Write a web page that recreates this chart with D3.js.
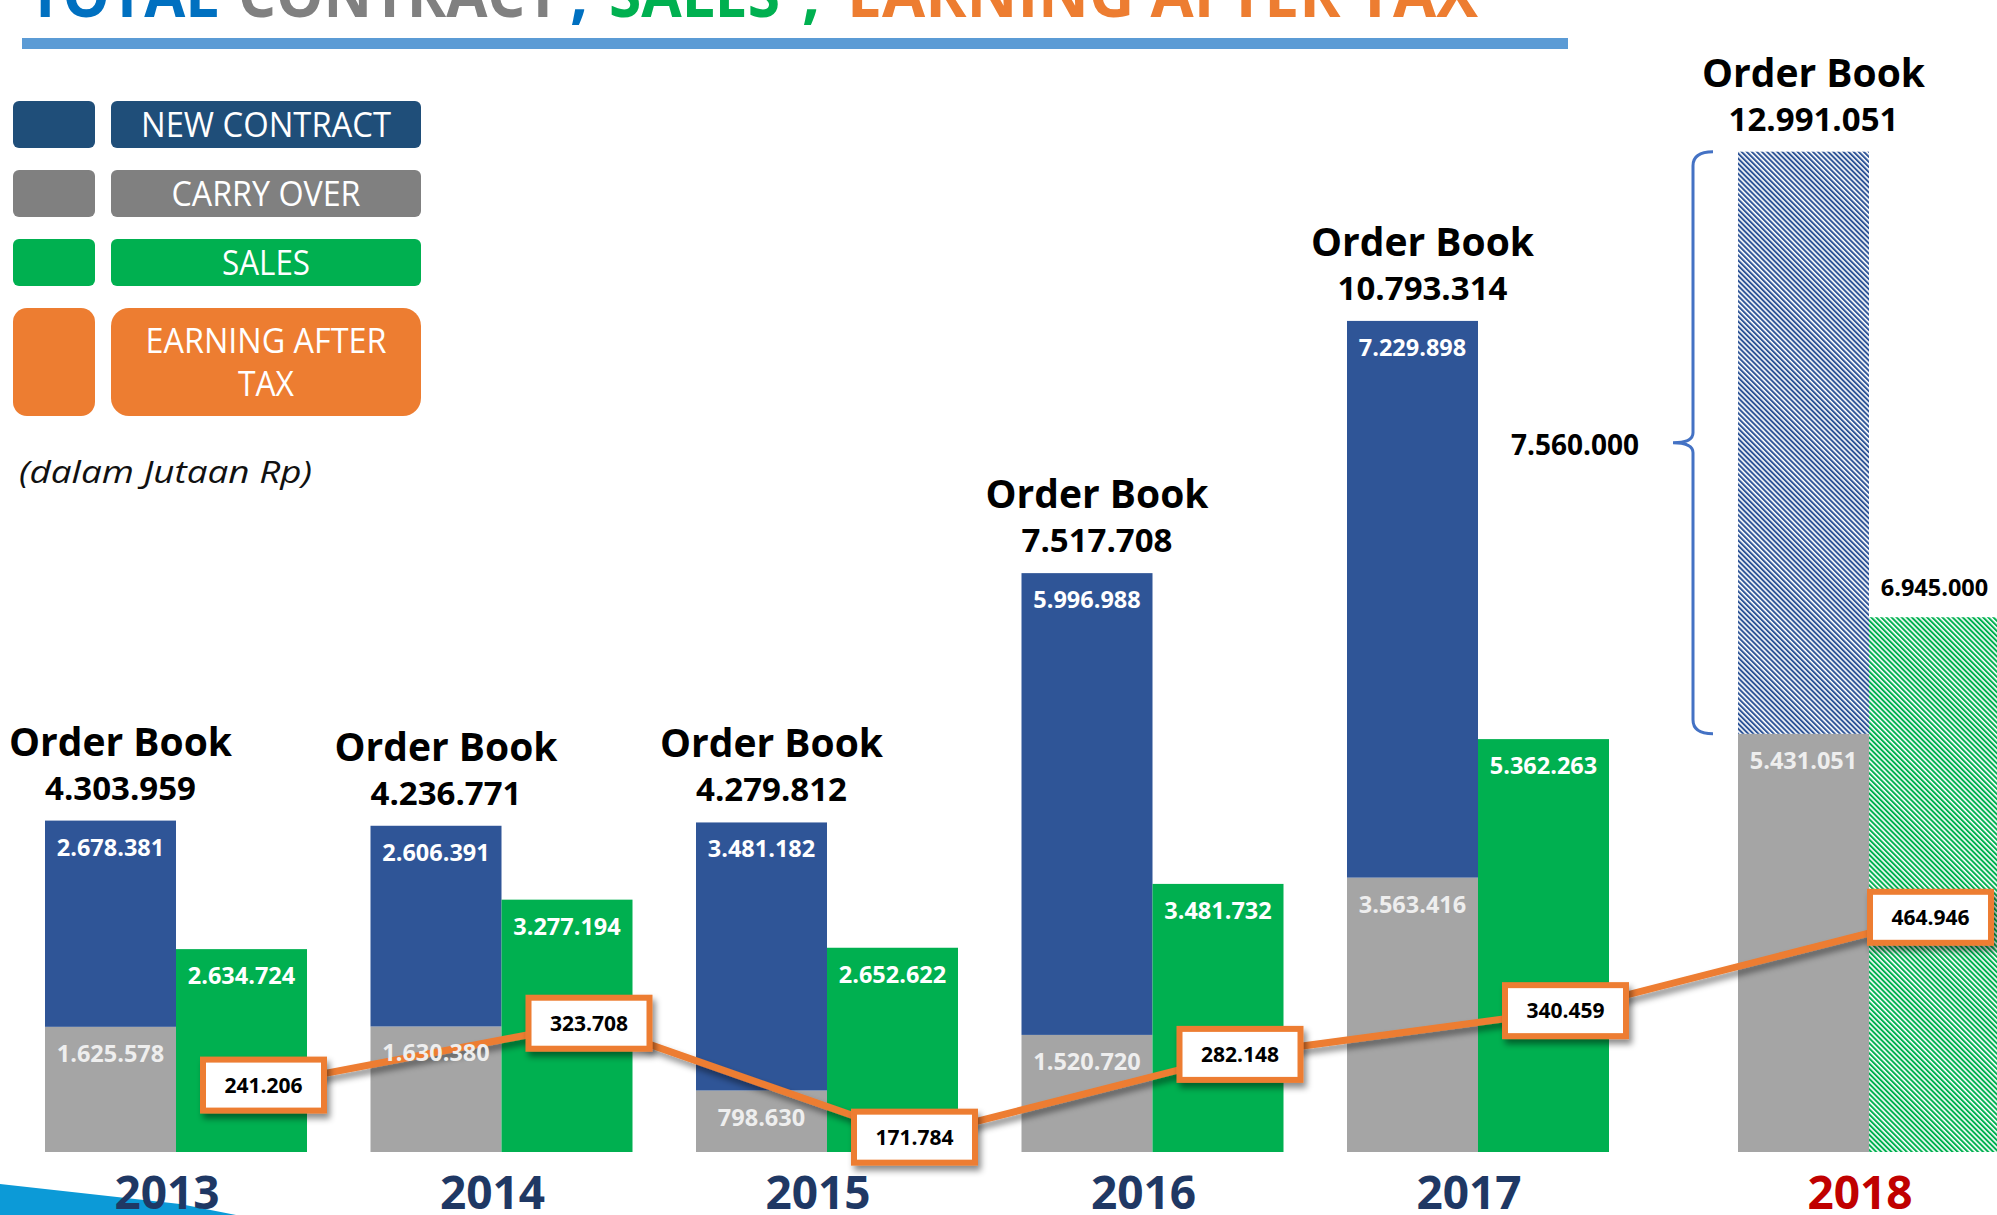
<!DOCTYPE html>
<html>
<head>
<meta charset="utf-8">
<title>Total Contract, Sales, Earning After Tax</title>
<script src="https://cdn.jsdelivr.net/npm/d3@7"></script>
<style>
  body { margin: 0; background: #ffffff; }
  text { font-family: 'Open Sans', 'DejaVu Sans', sans-serif; }
</style>
</head>
<body>
<svg id="mainsvg" width="1997" height="1215"></svg>
<script>
// data (dalam jutaan Rp)
const years = ['2013', '2014', '2015', '2016', '2017', '2018'];
const newContract = [2678381, 2606391, 3481182, 5996988, 7229898, 7560000];
const carryOver = [1625578, 1630380, 798630, 1520720, 3563416, 5431051];
const sales = [2634724, 3277194, 2652622, 3481732, 5362263, 6945000];
const earning = [241206, 323708, 171784, 282148, 340459, 464946];
const forecast = [false, false, false, false, false, true];

const legendNames = [['NEW CONTRACT'], ['CARRY OVER'], ['SALES'], ['EARNING AFTER', 'TAX']];
const legendColors = ['#1f4e79', '#808080', '#00b050', '#ed7d31'];

// canvas
const svg = d3.select('#mainsvg');
const width = +svg.attr('width');
const height = +svg.attr('height');
const baseline = 1152;
const barW = 131;

const fmt = d3.formatLocale({decimal: ',', thousands: '.', grouping: [3], currency: ['Rp', '']}).format(',d');

const data = years.map((yr, i) => ({
  year: yr,
  nc: newContract[i],
  co: carryOver[i],
  sales: sales[i],
  eat: earning[i],
  total: newContract[i] + carryOver[i],
  forecast: forecast[i]
}));

// 2018 is a projection, set a bit further right
const x = d3.scaleLinear().domain([2013, 2017, 2018]).range([45, 1347, 1738]);
const y = d3.scaleLinear().domain([0, 13000000]).range([baseline, baseline - 1001]);
const yE = d3.scaleLinear().domain([0, 500000]).range([1266, 891]);

// defs: hatch patterns + shadow
const defs = svg.append('defs');
const hatch = function(id, color) {
  const p = defs.append('pattern')
    .attr('id', id)
    .attr('patternUnits', 'userSpaceOnUse')
    .attr('width', 3.6).attr('height', 3.6)
    .attr('patternTransform', 'rotate(-45)');
  p.append('rect').attr('width', 3.6).attr('height', 3.6).attr('fill', '#ffffff');
  p.append('rect').attr('width', 2).attr('height', 3.6).attr('fill', color);
};
hatch('hatchBlue', '#2f5597');
hatch('hatchGreen', '#00b050');

const shadow = defs.append('filter').attr('id', 'shadow')
  .attr('x', '-20%').attr('y', '-20%').attr('width', '140%').attr('height', '160%');
shadow.append('feDropShadow')
  .attr('dx', 3).attr('dy', 5).attr('stdDeviation', 3)
  .attr('flood-color', '#000').attr('flood-opacity', 0.45);

// bottom-left decoration
svg.append('path')
  .attr('d', 'M0,1184 L90,1194 L180,1204 L236,1215 L0,1215 Z')
  .attr('fill', '#0c9ad7');

// title
const titleParts = [
  {t: 'TOTAL', c: '#0070c0', x: 28, len: 191},
  {t: 'CONTRACT', c: '#808080', x: 238, len: 322},
  {t: ',', c: '#0070c0', x: 570, len: null},
  {t: 'SALES', c: '#00b050', x: 609, len: 171},
  {t: ',', c: '#00b050', x: 802, len: null},
  {t: 'EARNING AFTER TAX', c: '#ed7d31', x: 847, len: 631}
];
svg.selectAll('.title')
  .data(titleParts)
  .enter().append('text')
  .attr('class', 'title')
  .attr('x', d => d.x)
  .attr('y', 17)
  .attr('fill', d => d.c)
  .attr('font-size', 64)
  .attr('font-weight', 'bold')
  .attr('textLength', d => d.len)
  .attr('lengthAdjust', 'spacingAndGlyphs')
  .text(d => d.t);
svg.append('rect')
  .attr('x', 22).attr('y', 38).attr('width', 1546).attr('height', 11)
  .attr('fill', '#5b9bd5');

// legend
const rowH = [47, 47, 47, 108];
let rowTop = 101;
const legendRows = legendNames.map((n, i) => {
  const r = {lines: n, color: legendColors[i], y: rowTop, h: rowH[i]};
  rowTop += rowH[i] + 22;
  return r;
});
const textLens = {'NEW CONTRACT': 250, 'CARRY OVER': 189, 'SALES': 88, 'EARNING AFTER': 241, 'TAX': 56};
const legend = svg.selectAll('.legend')
  .data(legendRows)
  .enter().append('g')
  .attr('class', 'legend')
  .attr('transform', d => `translate(0, ${d.y})`);
legend.append('rect')
  .attr('x', 13).attr('width', 82).attr('height', d => d.h)
  .attr('rx', d => d.h > 60 ? 14 : 6)
  .attr('fill', d => d.color);
legend.append('rect')
  .attr('x', 111).attr('width', 310).attr('height', d => d.h)
  .attr('rx', d => d.h > 60 ? 18 : 6)
  .attr('fill', d => d.color);
legend.each(function(d) {
  const g = d3.select(this);
  const n = d.lines.length;
  d.lines.forEach((line, j) => {
    g.append('text')
      .attr('x', 266)
      .attr('y', d.h / 2 + (j - (n - 1) / 2) * 43 + 12)
      .attr('text-anchor', 'middle')
      .attr('fill', '#ffffff')
      .attr('font-size', 34)
      .attr('textLength', textLens[line])
      .attr('lengthAdjust', 'spacingAndGlyphs')
      .text(line);
  });
});
svg.append('text')
  .attr('x', 19).attr('y', 483)
  .attr('font-size', 31)
  .attr('font-style', 'italic')
  .attr('fill', '#111')
  .attr('textLength', 293)
  .attr('lengthAdjust', 'spacingAndGlyphs')
  .text('(dalam Jutaan Rp)');

// bars
const bars = svg.append('g').attr('id', 'bars');
bars.selectAll('.co')
  .data(data).enter().append('rect')
  .attr('class', 'co')
  .attr('x', d => x(+d.year)).attr('width', barW)
  .attr('y', d => y(d.co)).attr('height', d => baseline - y(d.co))
  .attr('fill', '#a5a5a5');
bars.selectAll('.nc')
  .data(data).enter().append('rect')
  .attr('class', 'nc')
  .attr('x', d => x(+d.year)).attr('width', barW)
  .attr('y', d => y(d.total)).attr('height', d => y(d.co) - y(d.total))
  .attr('fill', d => d.forecast ? 'url(#hatchBlue)' : '#2f5597');
bars.selectAll('.sales')
  .data(data).enter().append('rect')
  .attr('class', 'sales')
  .attr('x', d => x(+d.year) + barW).attr('width', barW)
  .attr('y', d => y(d.sales)).attr('height', d => baseline - y(d.sales))
  .attr('fill', d => d.forecast ? 'url(#hatchGreen)' : '#00b050');

// order book labels
const ob = svg.selectAll('.orderbook')
  .data(data).enter().append('g')
  .attr('class', 'orderbook')
  .attr('transform', d => `translate(${x(+d.year) + barW / 2 + 10}, ${y(d.total)})`);
ob.append('text')
  .attr('y', -65)
  .attr('text-anchor', 'middle')
  .attr('font-size', 39).attr('font-weight', 'bold').attr('fill', '#000')
  .text('Order Book');
ob.append('text')
  .attr('y', -21)
  .attr('text-anchor', 'middle')
  .attr('font-size', 33).attr('font-weight', 'bold').attr('fill', '#000')
  .text(d => fmt(d.total));

// bracket for 2018 new contract
data.filter(d => d.forecast).forEach(d => {
  const xv = x(+d.year) - 45;
  const t = y(d.total), b = y(d.co), m = (t + b) / 2;
  const path = `M${xv + 20},${t} Q${xv},${t} ${xv},${t + 14} L${xv},${m - 10} Q${xv},${m} ${xv - 20},${m}` +
    ` Q${xv},${m} ${xv},${m + 10} L${xv},${b - 14} Q${xv},${b} ${xv + 20},${b}`;
  svg.append('path')
    .attr('d', path)
    .attr('fill', 'none')
    .attr('stroke', '#4472c4')
    .attr('stroke-width', 3);
  svg.append('text')
    .attr('x', xv - 54).attr('y', m + 12)
    .attr('text-anchor', 'end')
    .attr('font-size', 28).attr('font-weight', 'bold').attr('fill', '#000')
    .text(fmt(d.nc));
});

// earning after tax line
const boxW = 127, boxH = 57;
const pts = data.map(d => ({
  d: d,
  cx: Math.min(x(+d.year) + barW * 1.5 + 22, width - boxW / 2 - 3),
  cy: yE(d.eat)
}));
svg.append('path')
  .datum(pts)
  .attr('d', d3.line().x(p => p.cx).y(p => p.cy))
  .attr('fill', 'none')
  .attr('stroke', '#ed7d31')
  .attr('stroke-width', 7)
  .attr('filter', 'url(#shadow)');

// value labels inside bars (above the line)
const labels = svg.append('g').attr('id', 'labels');
const barLabel = function(sel, fill) {
  sel.attr('text-anchor', 'middle')
    .attr('font-size', 23.5)
    .attr('font-weight', 'bold')
    .attr('fill', fill);
};
labels.selectAll('.ncLabel')
  .data(data.filter(d => !d.forecast)).enter().append('text')
  .attr('class', 'ncLabel')
  .attr('x', d => x(+d.year) + barW / 2)
  .attr('y', d => y(d.total) + 35)
  .call(barLabel, '#ffffff')
  .text(d => fmt(d.nc));
labels.selectAll('.coLabel')
  .data(data).enter().append('text')
  .attr('class', 'coLabel')
  .attr('x', d => x(+d.year) + barW / 2)
  .attr('y', d => y(d.co) + 35)
  .call(barLabel, '#eeeeee')
  .text(d => fmt(d.co));
labels.selectAll('.salesLabel')
  .data(data).enter().append('text')
  .attr('class', 'salesLabel')
  .attr('x', d => x(+d.year) + barW * 1.5)
  .attr('y', d => d.forecast ? y(d.sales) - 21 : y(d.sales) + 35)
  .call(barLabel, d => d.forecast ? '#000000' : '#ffffff')
  .text(d => fmt(d.sales));

// earning boxes
const box = svg.selectAll('.eat')
  .data(pts).enter().append('g')
  .attr('class', 'eat')
  .attr('transform', p => `translate(${p.cx}, ${p.cy})`);
box.append('rect')
  .attr('x', -boxW / 2 + 3).attr('y', -boxH / 2 + 3)
  .attr('width', boxW - 6).attr('height', boxH - 6)
  .attr('fill', '#ffffff')
  .attr('stroke', '#ed7d31')
  .attr('stroke-width', 6)
  .attr('filter', 'url(#shadow)');
box.append('text')
  .attr('y', 7.5)
  .attr('text-anchor', 'middle')
  .attr('font-size', 21).attr('font-weight', 'bold').attr('fill', '#000')
  .text(p => fmt(p.d.eat));

// year labels
svg.selectAll('.year')
  .data(data).enter().append('text')
  .attr('class', 'year')
  .attr('x', d => x(+d.year) + barW - 9)
  .attr('y', 1209)
  .attr('text-anchor', 'middle')
  .attr('font-size', 46).attr('font-weight', 'bold')
  .attr('fill', d => d.forecast ? '#c00000' : '#1f3864')
  .text(d => d.year);
</script>
</body>
</html>
